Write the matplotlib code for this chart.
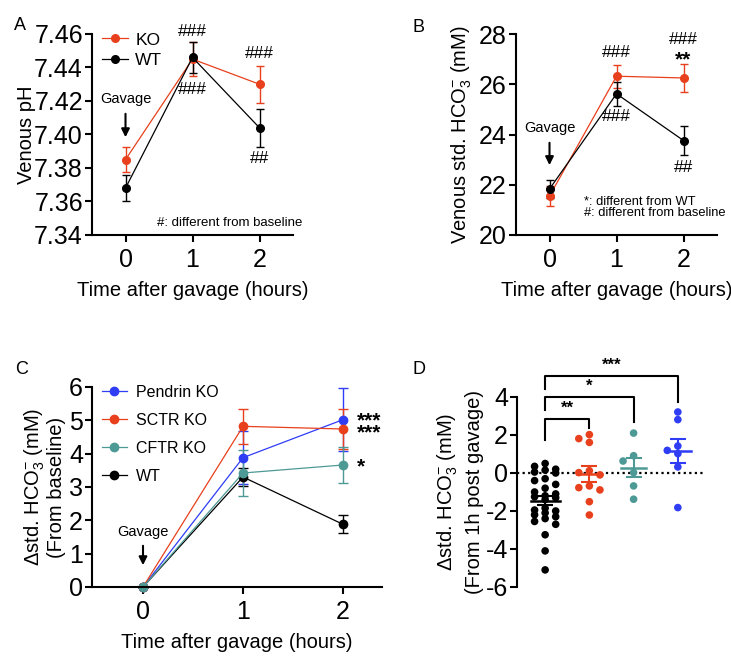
import numpy as np
import matplotlib
matplotlib.use('Agg')
import matplotlib.pyplot as plt
from matplotlib.lines import Line2D

plt.rcParams['font.family'] = ['Liberation Sans', 'DejaVu Sans']
plt.rcParams['mathtext.fontset'] = 'custom'
plt.rcParams['mathtext.rm'] = 'Liberation Sans'
plt.rcParams['mathtext.it'] = 'Liberation Sans:italic'
plt.rcParams['mathtext.bf'] = 'Liberation Sans:bold'
plt.rcParams['axes.unicode_minus'] = False

RED = '#E8401C'
BLUE = '#2F3DF5'
TEAL = '#4D9995'
BLACK = '#000000'

hours = [0, 1, 2]

# panel A - venous pH (mean, sem)
ph_ko = [7.385, 7.445, 7.430]
ph_ko_err = [0.0075, 0.010, 0.011]
ph_wt = [7.368, 7.446, 7.404]
ph_wt_err = [0.008, 0.009, 0.0115]

# panel B - venous std. HCO3- (mM)
hco3_ko = [21.55, 26.32, 26.25]
hco3_ko_err = [0.40, 0.45, 0.57]
hco3_wt = [21.83, 25.62, 23.76]
hco3_wt_err = [0.35, 0.47, 0.58]

# panel C - change from baseline
d_pendrin = [0, 3.88, 5.02]
d_pendrin_err = [0, 0.80, 0.95]
d_sctr = [0, 4.82, 4.74]
d_sctr_err = [0, 0.53, 0.60]
d_cftr = [0, 3.42, 3.66]
d_cftr_err = [0, 0.70, 0.54]
d_wt = [0, 3.30, 1.88]
d_wt_err = [0, 0.28, 0.27]

# panel D - change from 1h post gavage, individual animals
groups_d = ['WT', 'SCTR KO', 'CFTR KO', 'Pendrin KO']
pts_wt = [0.5, 0.35, 0.2, 0.15, 0.05, 0.0, -0.3, -0.4, -0.6, -0.8, -1.0, -1.1, -1.2, -1.25,
          -1.3, -1.4, -1.85, -1.95, -2.0, -2.1, -2.2, -2.3, -2.4, -2.55, -2.7, -3.25, -4.1, -5.1]
pts_sctr = [2.02, 1.61, 1.81, 0.12, -0.1, 0.02, -0.68, -0.77, -0.89, -1.51, -2.21]
pts_cftr = [2.1, 0.91, 0.63, 0.02, -0.68, -1.38]
pts_pendrin = [3.21, 2.81, 1.19, 1.42, 1.02, 0.32, -1.82]

W, H = 731, 656


def box(l, t, r, b):
    return [l / W, 1 - b / H, (r - l) / W, (b - t) / H]


def style(ax):
    for s in ['top', 'right']:
        ax.spines[s].set_visible(False)
    ax.spines['left'].set_linewidth(1.5)
    ax.spines['bottom'].set_linewidth(1.5)
    ax.tick_params(width=1.5, length=5, labelsize=18)
    ax.tick_params(axis='y', pad=1.5)
    ax.tick_params(axis='x', pad=4.5)


def line_err(ax, y, err, color, ms=5.5, cap=3.2):
    c = ax.errorbar(hours, y, yerr=err, color=color, marker='o', ms=ms, lw=0.9,
                    elinewidth=1.0, capsize=cap, capthick=1.0)
    for art in c.get_children():
        art.set_clip_on(False)
    return c


def gavage(ax, ytext, y0, y1):
    ax.text(0, ytext, 'Gavage', ha='center', va='center', fontsize=10.5)
    ax.annotate('', xy=(0, y1), xytext=(0, y0),
                arrowprops=dict(arrowstyle='-|>', color='black', lw=1.5, mutation_scale=12))


def swarm(values, xpx=44.0, ypx=19.0, step=10.5, diam=7.5):
    values = np.asarray(values, dtype=float)
    placed = []
    offs = np.zeros(len(values))
    for i in np.argsort(values)[::-1]:
        y = values[i] * ypx
        best, best_gap = 0, -1.0
        for k in [0, -1, 1]:
            x = k * step
            gap = min([np.hypot(x - px, y - py) for px, py in placed], default=99.0)
            if gap >= diam:
                best = k
                break
            if gap > best_gap:
                best, best_gap = k, gap
        placed.append((best * step, y))
        offs[i] = best * step / xpx
    return offs


fig = plt.figure(figsize=(W / 100, H / 100), dpi=100)
hsz = 12.5

# ---------------- A ----------------
axA = fig.add_axes(box(92, 34, 293, 235))
style(axA)
line_err(axA, ph_ko, ph_ko_err, RED)
line_err(axA, ph_wt, ph_wt_err, BLACK)
axA.set_xlim(-0.5, 2.5)
axA.set_ylim(7.34, 7.46)
axA.set_yticks([7.34, 7.36, 7.38, 7.40, 7.42, 7.44, 7.46])
axA.set_yticklabels(['7.34', '7.36', '7.38', '7.40', '7.42', '7.44', '7.46'])
axA.set_xticks(hours)
axA.set_ylabel('Venous pH', fontsize=14.5)
axA.yaxis.set_label_coords(-0.325, 0.5)
axA.yaxis.label.set_va('center')
axA.set_xlabel('Time after gavage (hours)', fontsize=14.5)
axA.xaxis.set_label_coords(0.5, -0.274)
axA.xaxis.label.set_va('center')
axA.text(1, 7.4615, '###', ha='center', va='center', fontsize=hsz)
axA.text(1, 7.427, '###', ha='center', va='center', fontsize=hsz)
axA.text(2, 7.4485, '###', ha='center', va='center', fontsize=hsz)
axA.text(2, 7.3854, '##', ha='center', va='center', fontsize=hsz)
gavage(axA, 7.421, 7.414, 7.3967)
axA.text(0.465, 7.347, '#: different from baseline', ha='left', va='center', fontsize=9.5)
hA = [Line2D([], [], color=RED, marker='o', ms=5.5, lw=0.9),
      Line2D([], [], color=BLACK, marker='o', ms=5.5, lw=0.9)]
axA.legend(hA, ['KO', 'WT'], loc='upper left', bbox_to_anchor=(0.0, 1.06), frameon=False,
           fontsize=12.5, handlelength=1.5, handletextpad=0.4, labelspacing=0.3, borderaxespad=0.2)

# ---------------- B ----------------
axB = fig.add_axes(box(516, 34, 717, 235))
style(axB)
line_err(axB, hco3_ko, hco3_ko_err, RED)
line_err(axB, hco3_wt, hco3_wt_err, BLACK)
axB.set_xlim(-0.5, 2.5)
axB.set_ylim(20, 28)
axB.set_yticks([20, 22, 24, 26, 28])
axB.set_xticks(hours)
axB.set_ylabel(r'Venous std. HCO$_3^{-}$ (mM)', fontsize=14.5)
axB.yaxis.set_label_coords(-0.269, 0.5)
axB.yaxis.label.set_va('center')
axB.set_xlabel('Time after gavage (hours)', fontsize=14.5)
axB.xaxis.set_label_coords(0.5, -0.274)
axB.xaxis.label.set_va('center')
axB.text(1, 27.25, '###', ha='center', va='center', fontsize=hsz)
axB.text(1, 24.7, '###', ha='center', va='center', fontsize=hsz)
axB.text(2, 27.8, '###', ha='center', va='center', fontsize=hsz)
axB.text(2, 26.95, '**', ha='center', va='center', fontsize=15, fontweight='bold')
axB.text(2, 22.7, '##', ha='center', va='center', fontsize=hsz)
gavage(axB, 24.26, 23.78, 22.67)
axB.text(0.51, 21.1, '*: different from WT\n#: different from baseline', ha='left',
         va='center', fontsize=9.3, linespacing=0.95)

# ---------------- C ----------------
axC = fig.add_axes(box(92, 387, 382, 587))
style(axC)
cw = line_err(axC, d_wt, d_wt_err, BLACK, ms=6, cap=3.5)
cp = line_err(axC, d_pendrin, d_pendrin_err, BLUE, ms=6, cap=3.5)
cs = line_err(axC, d_sctr, d_sctr_err, RED, ms=6, cap=3.5)
cc = line_err(axC, d_cftr, d_cftr_err, TEAL, ms=6, cap=3.5)
axC.set_xlim(-0.51, 2.39)
axC.set_ylim(0, 6)
axC.set_yticks(range(0, 7))
axC.set_xticks(hours)
axC.set_ylabel('\u0394std. HCO$_3^{-}$ (mM)\n(From baseline)', fontsize=14.5, linespacing=1.0)
axC.yaxis.set_label_coords(-0.166, 0.5)
axC.yaxis.label.set_va('center')
axC.set_xlabel('Time after gavage (hours)', fontsize=14.5)
axC.xaxis.set_label_coords(0.5, -0.275)
axC.xaxis.label.set_va('center')
axC.text(2.14, (d_pendrin[2] + d_sctr[2]) / 2 - 0.07, '***\n***', ha='left', va='center',
         fontsize=15, fontweight='bold', linespacing=0.5)
axC.text(2.14, d_cftr[2] - 0.05, '*', ha='left', va='center', fontsize=15, fontweight='bold')
gavage(axC, 1.65, 1.32, 0.57)
hC = [Line2D([], [], color=c, marker='o', ms=6, lw=0.9) for c in [BLUE, RED, TEAL, BLACK]]
axC.legend(hC, ['Pendrin KO', 'SCTR KO', 'CFTR KO', 'WT'], loc='upper left',
           bbox_to_anchor=(0.0, 1.06), frameon=False, fontsize=11.5, handlelength=1.6,
           handletextpad=0.55, labelspacing=0.82, borderaxespad=0.2)

# ---------------- D ----------------
axD = fig.add_axes(box(517, 397, 705, 587))
for s in ['top', 'right', 'bottom']:
    axD.spines[s].set_visible(False)
axD.spines['left'].set_linewidth(1.5)
axD.tick_params(axis='y', width=1.5, length=5, labelsize=18, pad=1.5)
axD.set_xticks([])
axD.set_xlim(-0.636, 3.614)
axD.set_ylim(-6, 4)
axD.set_yticks([-6, -4, -2, 0, 2, 4])
axD.axhline(0, color='black', ls=(0, (1, 1.5)), lw=1.6, zorder=1)
for i, (pts, col) in enumerate(zip([pts_wt, pts_sctr, pts_cftr, pts_pendrin],
                                   [BLACK, RED, TEAL, BLUE])):
    pts = np.asarray(pts)
    xs = i + swarm(pts)
    axD.scatter(xs, pts, s=30, color=col, edgecolors='none', zorder=3)
    m = pts.mean()
    sem = pts.std(ddof=1) / np.sqrt(len(pts))
    hw = 0.33 if i == 0 else 0.29
    axD.plot([i - hw, i + hw], [m, m], color=col, lw=1.8, zorder=4)
    axD.errorbar(i, m, yerr=sem, color=col, lw=1.5, capsize=5.5, capthick=1.5, zorder=4)
brackets = [(0, 1, 2.84, 1.75, 2.35, '**', 3.4),
            (0, 2, 4.02, 3.32, 2.67, '*', 4.54),
            (0, 3, 5.12, 4.42, 3.75, '***', 5.68)]
for x0, x1, h, l0, r0, lab, ly in brackets:
    axD.plot([x0, x0, x1, x1], [l0, h, h, r0], color='black', lw=1.5, clip_on=False)
    axD.text((x0 + x1) / 2, ly, lab, ha='center', va='center', fontsize=12, fontweight='bold')
axD.set_ylabel('\u0394std. HCO$_3^{-}$ (mM)\n(From 1h post gavage)', fontsize=14.5,
               linespacing=1.3)
axD.yaxis.set_label_coords(-0.305, 0.5)
axD.yaxis.label.set_va('center')

# panel letters
for lab, x, y in [('A', 14, 26), ('B', 413, 27), ('C', 15, 370), ('D', 413, 369)]:
    fig.text(x / W, 1 - y / H, lab, ha='left', va='center', fontsize=13)

fig.savefig('out.png', dpi=100)
